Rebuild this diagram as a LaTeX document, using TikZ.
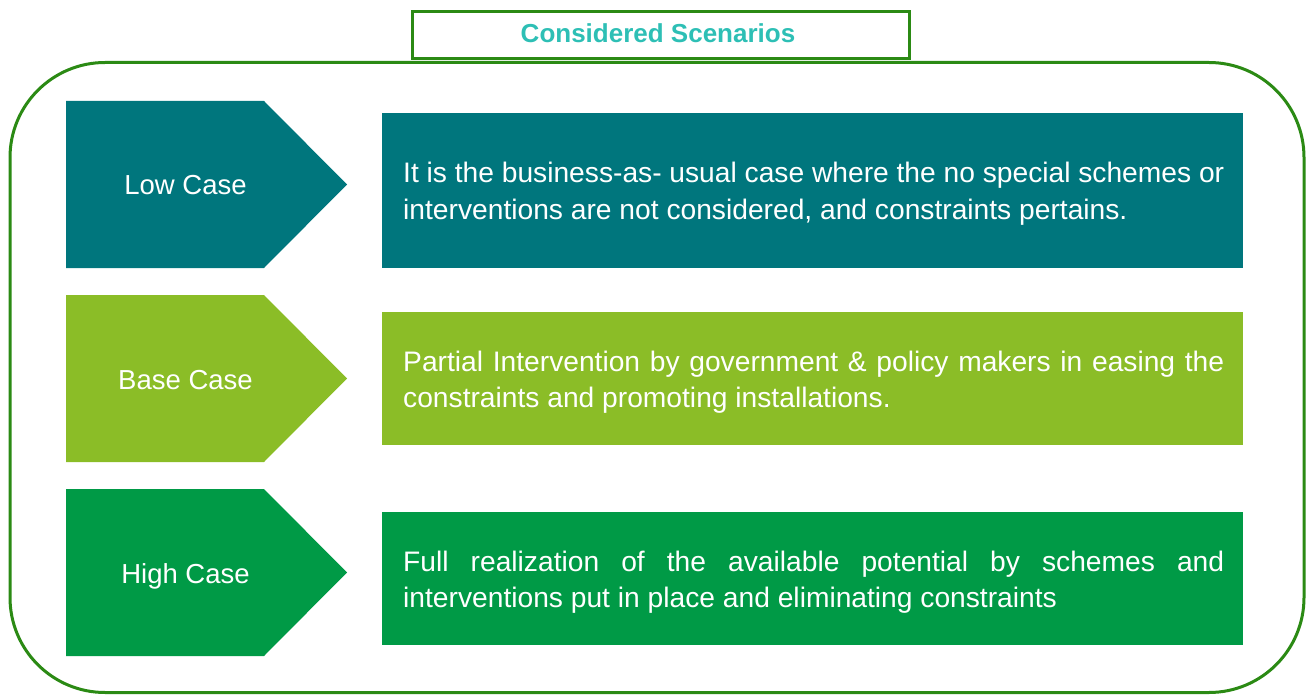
\documentclass[tikz,border=0pt]{standalone}
\usepackage{fontspec}
\setmainfont{Liberation Sans}
\definecolor{framegreen}{HTML}{2B8A14}
\definecolor{titleteal}{HTML}{2DBFB5}
\definecolor{lowc}{HTML}{00767D}
\definecolor{basec}{HTML}{8BBD27}
\definecolor{highc}{HTML}{009A46}
\begin{document}
\begin{tikzpicture}[x=1pt,y=-1pt,
  frame/.style={draw=framegreen,line width=3pt},
  descbox/.style={anchor=north west,inner sep=0pt,outer sep=0pt,minimum width=861pt,minimum height=#1},
  caselbl/.style={anchor=base,text=white,inner sep=0pt,font=\fontsize{27.5}{33}\selectfont},
  descline/.style={anchor=base west,text=white,inner sep=0pt,font=\fontsize{28.2}{34}\selectfont}]
\useasboundingbox (0,0) rectangle (1309,695);
% outer frame
\node[frame,rounded corners=95pt,minimum width=1294pt,minimum height=630pt,inner sep=0pt] (outer) at (657,377.5) {};
% title
\node[frame,fill=white,minimum width=497pt,minimum height=47pt,inner sep=0pt] (titlebox) at (660.5,35.5) {};
\node[anchor=base,inner sep=0pt,text=titleteal,font=\fontsize{26}{30}\selectfont\bfseries] (title) at (658,43) {Considered Scenarios};
% arrows
\fill[lowc] (66,101) -- (264,101) -- (347,184.5) -- (264,268) -- (66,268) -- cycle;
\fill[basec] (66,295) -- (264,295) -- (347,378.5) -- (264,462) -- (66,462) -- cycle;
\fill[highc] (66,489) -- (264,489) -- (347,572.5) -- (264,656) -- (66,656) -- cycle;
\node[caselbl] (lowlbl) at (185.5,195) {Low Case};
\node[caselbl] (baselbl) at (185.5,389) {Base Case};
\node[caselbl] (highlbl) at (185.5,583) {High Case};
% description boxes
\node[descbox=155pt,fill=lowc] (lowbox) at (382,113) {};
\node[descbox=133pt,fill=basec] (basebox) at (382,312) {};
\node[descbox=133pt,fill=highc] (highbox) at (382,512) {};
\node[descline] (lowt1) at (403,183) {\makebox[821pt][s]{It is the business-as- usual case where the no special schemes or}};
\node[descline] (lowt2) at (403,219) {interventions are not considered, and constraints pertains.};
\node[descline] (baset1) at (403,371) {\makebox[821pt][s]{Partial Intervention by government \& policy makers in easing the}};
\node[descline] (baset2) at (403,407) {constraints and promoting installations.};
\node[descline] (hight1) at (403,571) {\makebox[821pt][s]{Full realization of the available potential by schemes and}};
\node[descline] (hight2) at (403,607) {interventions put in place and eliminating constraints};
\end{tikzpicture}
\end{document}
